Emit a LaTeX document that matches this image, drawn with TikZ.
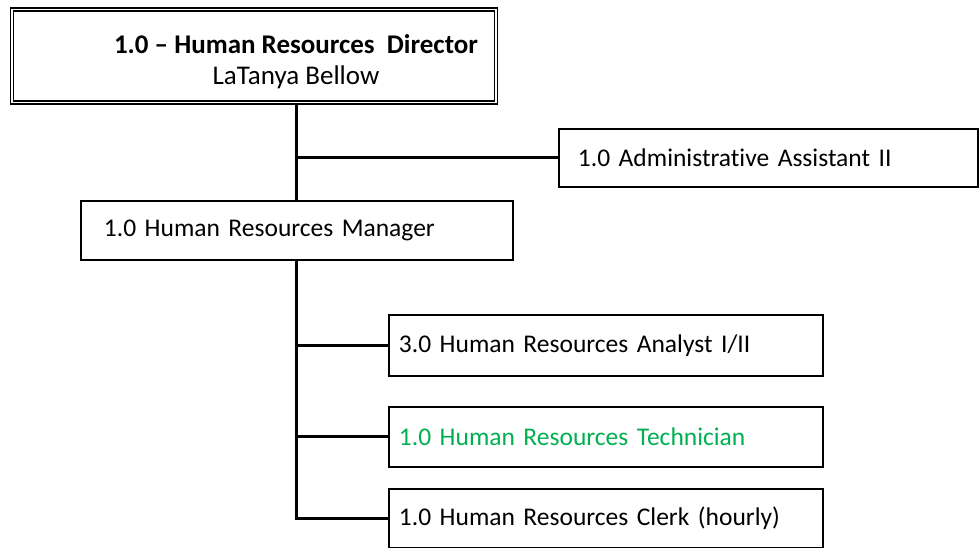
\documentclass[tikz,border=0pt]{standalone}
\usepackage{fontspec}
\setmainfont{Carlito}[Ligatures={NoCommon}]
\definecolor{officegreen}{RGB}{0,176,80}
\begin{document}
\begin{tikzpicture}[x=1pt,y=-1pt,
  box/.style={draw=black,line width=1.9pt,rectangle,anchor=north west,align=left,font=\fontsize{25.5}{30}\selectfont,inner ysep=0pt},
  conn/.style={draw=black,line width=3pt}]
\useasboundingbox (0,0) rectangle (979,548);
\node[draw=black,line width=1.4pt,double,double distance=1.6pt,minimum width=484pt,minimum height=93pt,anchor=north west,inner sep=0pt] (top) at (11,9) {};
\node[align=center,font=\fontsize{27}{31}\selectfont] (toptext) at (296,62) {\textbf{1.0 – Human Resources\ \ Director}\\LaTanya Bellow};
\node[box,minimum width=419pt,minimum height=58pt,text width=381pt,inner xsep=19pt] (admin) at (558,128) {1.0 Administrative Assistant II};
\node[box,minimum width=432pt,minimum height=59pt,text width=386pt,inner xsep=23pt] (mgr) at (80,200) {1.0 Human Resources Manager};
\node[box,minimum width=434pt,minimum height=61pt,text width=414pt,inner xsep=10pt] (analyst) at (388,314) {3.0 Human Resources Analyst I/II};
\node[box,minimum width=434pt,minimum height=60pt,text width=414pt,inner xsep=10pt,text=officegreen] (tech) at (388,406) {1.0 Human Resources Technician};
\node[box,minimum width=434pt,minimum height=59pt,text width=414pt,inner xsep=10pt] (clerk) at (388,488) {1.0 Human Resources Clerk (hourly)};
\coordinate (j1) at (296,156);
\coordinate (j2) at (296,300);
\draw[conn] (top.south -| j1) -- (mgr.north -| j1);
\draw[conn] (j1 |- admin.west) -- (admin.west);
\draw[conn] (mgr.south -| j2) -- (j2 |- clerk.west) -- (clerk.west);
\draw[conn] (j2 |- analyst.west) -- (analyst.west);
\draw[conn] (j2 |- tech.west) -- (tech.west);
\end{tikzpicture}
\end{document}
